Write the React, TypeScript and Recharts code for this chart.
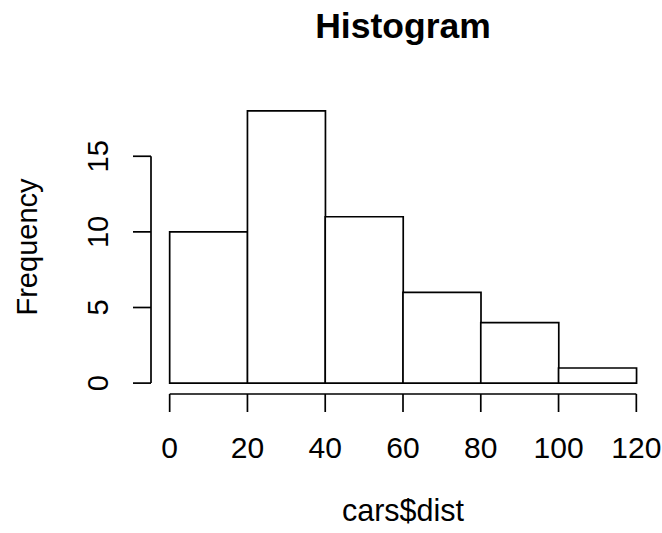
import { Bar, BarChart, Label, ReferenceLine, XAxis, YAxis } from 'recharts';

// hist(cars$dist): bin edges and counts
const binStarts = [0, 20, 40, 60, 80, 100];
const binEnds = [20, 40, 60, 80, 100, 120];
const counts = [10, 18, 11, 6, 4, 1];
const xTicks = [0, 20, 40, 60, 80, 100, 120];
const yTicks = [0, 5, 10, 15];

const WIDTH = 662;
const HEIGHT = 533;
const FONT = '"Liberation Sans", Arial, sans-serif';
const INK = '#000';
const LINE = 1.7;

const data = counts.map((count, i) => ({ mid: (binStarts[i] + binEnds[i]) / 2, count }));

// R pads the plot region 4% beyond the data range on each side
const xLo = binStarts[0];
const xHi = binEnds[binEnds.length - 1];
const xPad = (xHi - xLo) * 0.04;
const yHi = Math.max(...counts);
const yPad = yHi * 0.04;
const xDomain: [number, number] = [xLo - xPad, xHi + xPad];
const yDomain: [number, number] = [-yPad, yHi + yPad];

function YTick({ x, y, payload }: any) {
  return (
    <text
      x={x}
      y={y}
      transform={`rotate(-90, ${x}, ${y})`}
      textAnchor="middle"
      fontSize={29}
      fontFamily={FONT}
      fill={INK}
    >
      {payload.value}
    </text>
  );
}

export default function App() {
  return (
    <div style={{ position: 'absolute', left: 0, top: 0, width: WIDTH, height: HEIGHT, background: '#fff' }}>
      <svg width={WIDTH} height={60} style={{ position: 'absolute', left: 0, top: 0 }}>
        <text x={403} y={38} textAnchor="middle" fontSize={35.5} fontWeight="bold" fontFamily={FONT} fill={INK}>
          Histogram
        </text>
      </svg>
      <BarChart
        width={WIDTH}
        height={HEIGHT}
        data={data}
        barCategoryGap={0}
        barGap={0}
        margin={{ top: 100, right: 7, bottom: 8, left: 11 }}
      >
        <XAxis
          type="number"
          dataKey="mid"
          domain={xDomain}
          ticks={xTicks}
          interval={0}
          allowDataOverflow
          height={131}
          axisLine={false}
          tickLine={{ stroke: INK, strokeWidth: LINE }}
          tickSize={18}
          tickMargin={25}
          tick={{ fontSize: 30, fontFamily: FONT, fill: INK }}
        >
          <Label
            content={({ viewBox }: any) => (
              <text
                x={viewBox.x + viewBox.width / 2}
                y={viewBox.y + 127}
                textAnchor="middle"
                fontSize={30.5}
                fontFamily={FONT}
                fill={INK}
              >
                cars$dist
              </text>
            )}
          />
        </XAxis>
        <YAxis
          type="number"
          domain={yDomain}
          ticks={yTicks}
          interval={0}
          allowDataOverflow
          width={140}
          axisLine={false}
          tickLine={{ stroke: INK, strokeWidth: LINE }}
          tickSize={18}
          tickMargin={25}
          tick={<YTick />}
        >
          <Label
            content={({ viewBox }: any) => {
              const cx = viewBox.x + 26;
              const cy = viewBox.y + viewBox.height / 2;
              return (
                <text
                  x={cx}
                  y={cy}
                  transform={`rotate(-90, ${cx}, ${cy})`}
                  textAnchor="middle"
                  fontSize={29}
                  fontFamily={FONT}
                  fill={INK}
                >
                  Frequency
                </text>
              );
            }}
          />
        </YAxis>
        <ReferenceLine
          segment={[
            { x: xDomain[0], y: yTicks[0] },
            { x: xDomain[0], y: yTicks[yTicks.length - 1] },
          ]}
          stroke={INK}
          strokeWidth={LINE}
          ifOverflow="visible"
        />
        <ReferenceLine
          segment={[
            { x: xTicks[0], y: yDomain[0] },
            { x: xTicks[xTicks.length - 1], y: yDomain[0] },
          ]}
          stroke={INK}
          strokeWidth={LINE}
          ifOverflow="visible"
        />
        <Bar dataKey="count" fill="#fff" stroke={INK} strokeWidth={LINE} isAnimationActive={false} />
      </BarChart>
    </div>
  );
}
